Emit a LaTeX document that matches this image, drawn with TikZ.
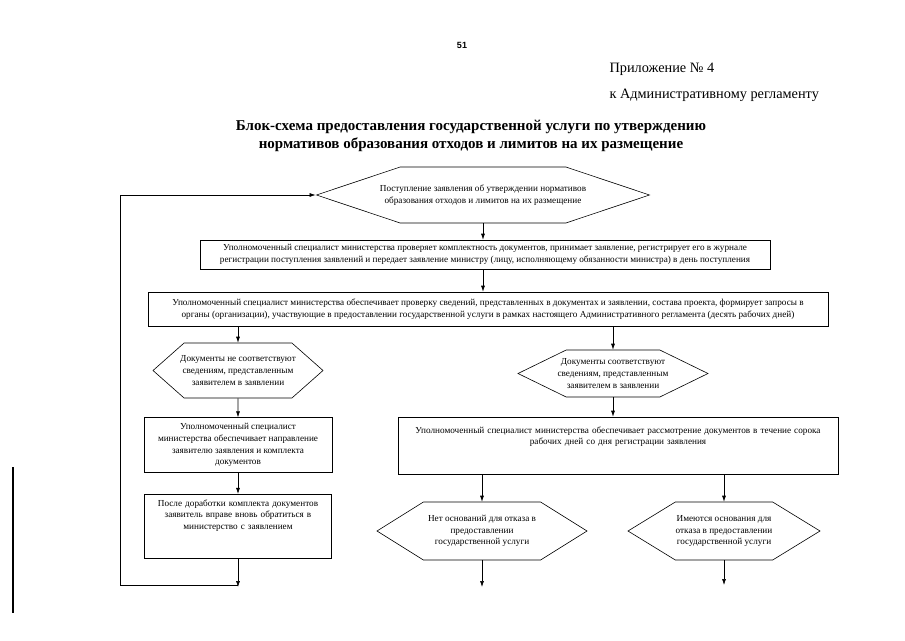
\documentclass[tikz,border=0pt]{standalone}
\usepackage{fontspec}
\setmainfont{Liberation Serif}
\newfontfamily\pagenofont{Liberation Sans}
\usetikzlibrary{shapes.symbols, arrows.meta, positioning, calc}
\tikzset{
  % Flowchart styles
  boxtext/.style={font=\fontsize{9.2}{11.6}\selectfont},
  procbox/.style={rectangle, draw=black, line width=0.6pt, align=center, boxtext, inner sep=3pt},
  choice/.style={signal, signal to=west and east, signal pointer angle=#1, draw=black, line width=0.6pt, align=center, boxtext, inner ysep=1pt, inner xsep=-40pt},
  choice/.default={70},
  arrow/.style={-{Latex[length=6pt, width=4pt]}, line width=0.6pt},
  plain/.style={line width=0.6pt},
}
\begin{document}
\begin{tikzpicture}[x=1pt, y=-1pt]
    \useasboundingbox (0,0) rectangle (905,640);

    % Page header
    \node[font=\pagenofont\bfseries\fontsize{9}{10}\selectfont] (pageno) at (462,45) {51};
    \node[anchor=west, font=\fontsize{14.3}{16}\selectfont] (annex) at (606,69) {Приложение № 4};
    \node[anchor=west, font=\fontsize{14.3}{16}\selectfont] (annexto) at (606,95) {к Административному регламенту};
    \node[align=center, font=\bfseries\fontsize{15}{18}\selectfont] (title) at (471,136)
      {Блок-схема предоставления государственной услуги по утверждению\\
       нормативов образования отходов и лимитов на их размещение};

    % Receipt
    \node[choice=37, minimum width=333pt, minimum height=56pt] (recv) at (483,195)
      {Поступление заявления об утверждении нормативов\\образования отходов и лимитов на их размещение};

    % Registration
    \node[procbox, minimum width=570pt, minimum height=29pt] (check) at (485,254.5)
      {Уполномоченный специалист министерства проверяет комплектность документов, принимает заявление, регистрирует его в журнале\\
       регистрации поступления заявлений и передает заявление министру (лицу, исполняющему обязанности министра) в день поступления};

    % Verification
    \node[procbox, minimum width=680pt, minimum height=34pt] (verify) at (488,309)
      {Уполномоченный специалист министерства обеспечивает проверку сведений, представленных в документах и заявлении, состава проекта, формирует запросы в\\
       органы (организации), участвующие в предоставлении государственной услуги в рамках настоящего Административного регламента (десять рабочих дней)};

    % Left branch
    \node[choice=83, minimum width=170pt, minimum height=55pt] (mismatch) at (238,370.5)
      {Документы не соответствуют\\сведениям, представленным\\заявителем в заявлении};
    \node[procbox, minimum width=188pt, minimum height=55pt, below=19pt of mismatch] (returnbox)
      {Уполномоченный специалист\\министерства обеспечивает направление\\заявителю заявления и комплекта\\документов};
    \node[procbox, text width=177pt, text height=7pt, text depth=47pt, inner xsep=5pt, inner ysep=5pt, below=21pt of returnbox] (resubmit)
      {После доработки комплекта документов\\заявитель вправе вновь обратиться в\\министерство с заявлением};

    % Right branch
    \node[choice=52, minimum width=190pt, minimum height=47pt] (match) at (613,373.5)
      {Документы соответствуют\\сведениям, представленным\\заявителем в заявлении};
    \node[procbox, text width=430pt, text height=11pt, text depth=36pt, inner xsep=5pt, inner ysep=5pt] (review) at (618,445.5)
      {Уполномоченный специалист министерства обеспечивает рассмотрение документов в течение сорока\\
       рабочих дней со дня регистрации заявления};
    \node[choice=64, minimum width=210pt, minimum height=58pt] (grant) at (482,531)
      {Нет оснований для отказа в\\предоставлении\\государственной услуги};
    \node[choice=63, minimum width=192pt, minimum height=58pt] (refuse) at (724,531)
      {Имеются основания для\\отказа в предоставлении\\государственной услуги};

    \coordinate (loopend) at (resubmit.south |- 0,587);
    \coordinate (loopleft) at (120,585);
    \coordinate (grantout) at (grant.south |- 0,587);
    \coordinate (refuseout) at (refuse.south |- 0,585);

    % Arrows
    \draw[arrow] (recv.south) -- (recv.south |- check.north);
    \draw[arrow] (recv.south |- check.south) -- (recv.south |- verify.north);
    \draw[arrow] (mismatch.north |- verify.south) -- (mismatch.north);
    \draw[arrow] (match.north |- verify.south) -- (match.north);
    \draw[arrow] (mismatch) -- (returnbox);
    \draw[arrow] (returnbox) -- (resubmit);
    \draw[arrow] (resubmit) -- (loopend);
    \draw[arrow] (loopend |- loopleft) -- (loopleft) |- (recv.west);
    \draw[arrow] (match.south) -- (match.south |- review.north);
    \draw[arrow] (grant.north |- review.south) -- (grant.north);
    \draw[arrow] (refuse.north |- review.south) -- (refuse.north);
    \draw[arrow] (grant) -- (grantout);
    \draw[arrow] (refuse) -- (refuseout);

    % scan edge
    \draw[line width=1.6pt] (13,467) -- (13,613);
  \end{tikzpicture}
\end{document}
